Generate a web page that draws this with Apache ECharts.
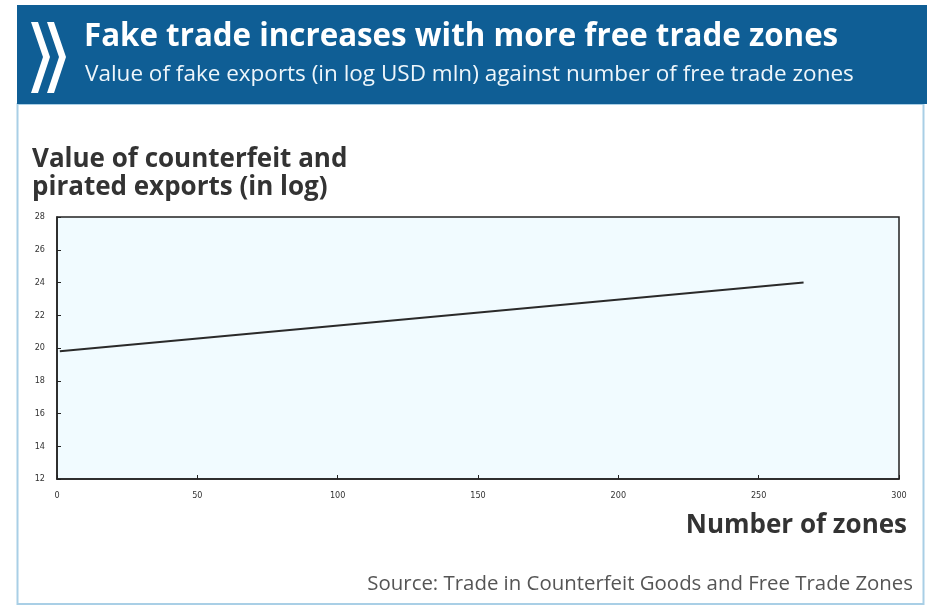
<!DOCTYPE html>
<html>
<head>
<meta charset="utf-8">
<script src="https://cdn.jsdelivr.net/npm/echarts@6/dist/echarts.min.js"></script>
<style>html,body{margin:0;padding:0;background:#fff}#c{width:927px;height:612px}</style>
</head>
<body>
<div id="c"></div>
<script>
// Data
const zones = [1, 266];
const fakeExports = [19.8, 24.0];
const yTicks = [12, 14, 16, 18, 20, 22, 24, 26, 28];
const xTicks = [0, 50, 100, 150, 200, 250, 300];
const titleText = 'Fake trade increases with more free trade zones';
const subtitleText = 'Value of fake exports (in log USD mln) against number of free trade zones';
const yName = ['Value of counterfeit and', 'pirated exports (in log)'];
const xName = 'Number of zones';
const sourceText = 'Source: Trade in Counterfeit Goods and Free Trade Zones';

const chart = echarts.init(document.getElementById('c'), null, {renderer: 'canvas'});
const tickFont = '"Liberation Sans Narrow", "DejaVu Sans Condensed", sans-serif';
chart.setOption({
  animation: false,
  backgroundColor: '#ffffff',
  grid: {
    left: 57, right: 28, top: 217, bottom: 133,
    show: true, backgroundColor: '#f1fbff', borderColor: '#222', borderWidth: 1.5
  },
  xAxis: {
    type: 'value', min: xTicks[0], max: xTicks[xTicks.length - 1], interval: 50,
    axisLine: {show: true, lineStyle: {color: '#222', width: 1.5}},
    axisTick: {show: true, inside: true, length: 4, lineStyle: {color: '#222'}},
    splitLine: {show: false},
    axisLabel: {fontSize: 9, color: '#333', fontFamily: tickFont, margin: 12}
  },
  yAxis: {
    type: 'value', min: yTicks[0], max: yTicks[yTicks.length - 1], interval: 2,
    axisLine: {show: true, lineStyle: {color: '#222', width: 1.5}},
    axisTick: {show: true, inside: true, length: 4, lineStyle: {color: '#222'}},
    splitLine: {show: false},
    axisLabel: {fontSize: 9, color: '#333', fontFamily: tickFont, margin: 12}
  },
  series: [{
    type: 'line',
    data: zones.map((z, i) => [z, fakeExports[i]]),
    showSymbol: false,
    lineStyle: {color: '#2a2a2a', width: 2}
  }],
  graphic: [
    {type: 'rect', z: -10, shape: {x: 17.5, y: 104, width: 906, height: 500}, style: {fill: '#fff', stroke: '#a9cfe6', lineWidth: 2}},
    {type: 'rect', z: 10, shape: {x: 17, y: 5, width: 910, height: 99}, style: {fill: '#0f5e95'}},
    {type: 'polygon', z: 11, shape: {points: [[31,22],[38,22],[50,57],[38,93],[31,93],[43,57]]}, style: {fill: '#ffffff'}},
    {type: 'polygon', z: 11, shape: {points: [[47,22],[54,22],[66,57],[54,93],[47,93],[59,57]]}, style: {fill: '#ffffff'}},
    {type: 'text', z: 11, left: 84, top: 22, style: {text: titleText, fill: '#ffffff', font: 'bold 31.3px "Open Sans", sans-serif'}},
    {type: 'text', z: 11, left: 85, top: 63, style: {text: subtitleText, fill: '#eef6fb', font: '22.5px "Open Sans", sans-serif'}},
    {type: 'text', left: 32, top: 146, style: {text: yName.join('\n'), fill: '#333', font: 'bold 26px "Open Sans", sans-serif', lineHeight: 28}},
    {type: 'text', right: 20, top: 513, style: {text: xName, fill: '#333', font: 'bold 26px "Open Sans", sans-serif'}},
    {type: 'text', right: 14, top: 574, style: {text: sourceText, fill: '#555', font: '20.4px "Open Sans", sans-serif'}}
  ]
});
</script>
</body>
</html>
